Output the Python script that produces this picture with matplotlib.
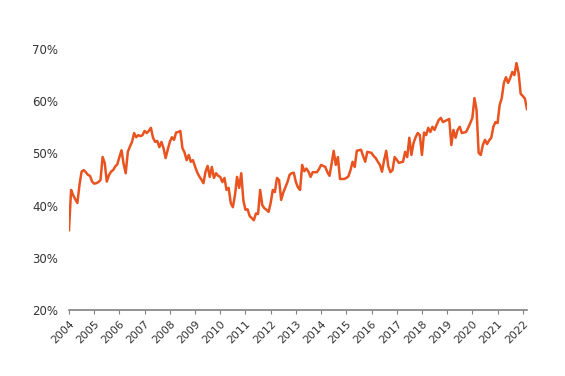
import matplotlib
matplotlib.use("Agg")
import matplotlib.pyplot as plt
import numpy as np

# monthly share (%), Jan 2004 .. Mar 2022
y2004 = [35.3, 43.0, 42.0, 41.2, 40.5, 44.0, 46.5, 46.8, 46.4, 45.9, 45.7, 44.6]
y2005 = [44.2, 44.3, 44.5, 44.9, 49.3, 48.2, 44.6, 45.8, 46.5, 46.8, 47.5, 47.9]
y2006 = [49.3, 50.6, 48.0, 46.2, 50.3, 51.3, 52.2, 53.9, 53.1, 53.5, 53.3, 53.5]
y2007 = [54.3, 53.9, 54.3, 54.9, 53.0, 52.2, 52.4, 51.2, 52.2, 51.0, 49.1, 50.7]
y2008 = [52.2, 53.1, 52.6, 54.0, 54.1, 54.3, 51.0, 50.2, 48.7, 49.7, 48.4, 48.7]
y2009 = [47.5, 46.4, 45.6, 45.0, 44.3, 46.5, 47.6, 45.5, 47.4, 45.3, 46.2, 45.7]
y2010 = [45.5, 44.5, 45.3, 43.0, 43.4, 40.5, 39.7, 42.0, 45.5, 43.4, 46.2, 41.0]
y2011 = [39.2, 39.3, 38.0, 37.6, 37.2, 38.5, 38.4, 43.0, 40.1, 39.5, 39.2, 38.8]
y2012 = [40.5, 43.0, 42.6, 45.3, 44.9, 41.1, 42.5, 43.5, 44.5, 45.9, 46.2, 46.3]
y2013 = [44.5, 43.5, 43.0, 47.8, 46.6, 47.1, 46.5, 45.5, 46.4, 46.4, 46.4, 47.0]
y2014 = [47.8, 47.6, 47.4, 46.4, 45.7, 48.0, 50.5, 47.8, 49.3, 45.1, 45.1, 45.1]
y2015 = [45.3, 45.6, 46.8, 48.4, 47.4, 50.5, 50.6, 50.7, 49.5, 48.4, 50.3, 50.2]
y2016 = [50.1, 49.5, 49.1, 48.4, 47.8, 46.5, 48.7, 50.5, 47.5, 46.4, 46.8, 49.3]
y2017 = [48.8, 48.2, 48.3, 48.4, 50.3, 49.3, 53.0, 49.7, 52.0, 53.1, 53.9, 53.5]
y2018 = [49.7, 54.0, 53.5, 54.9, 54.1, 55.1, 54.5, 55.5, 56.4, 56.8, 56.0, 56.2]
y2019 = [56.4, 56.6, 51.6, 54.5, 53.0, 54.5, 55.1, 53.9, 54.0, 54.1, 54.9, 55.8]
y2020 = [56.8, 60.6, 58.3, 50.1, 49.7, 51.6, 52.6, 51.8, 52.5, 53.0, 55.1, 56.0]
y2021 = [55.8, 59.3, 60.6, 63.5, 64.6, 63.5, 64.4, 65.6, 65.0, 67.3, 65.4, 61.4]
y2022 = [61.0, 60.5, 58.5]

values = (y2004 + y2005 + y2006 + y2007 + y2008 + y2009 + y2010 + y2011 + y2012
          + y2013 + y2014 + y2015 + y2016 + y2017 + y2018 + y2019 + y2020 + y2021 + y2022)
years = list(range(2004, 2023))
yticks = [20, 30, 40, 50, 60, 70]

t = 2004 + np.arange(len(values)) / 12

fig = plt.figure(figsize=(5.65, 3.76), dpi=100)
ax = fig.add_axes([0.1221, 0.1755, 0.8106, 0.6942])
ax.plot(t, values, color="#E9531F", linewidth=1.8, solid_joinstyle="round")

ax.set_xlim(2004, t[-1])
ax.set_ylim(20, 70)
ax.set_yticks(yticks)
ax.set_yticklabels([f"{v}%" for v in yticks])
ax.set_xticks(years)
ax.set_xticklabels([str(y) for y in years], rotation=45, ha="right", rotation_mode="anchor")

for side in ["top", "right", "left"]:
    ax.spines[side].set_visible(False)
ax.spines["bottom"].set_color("#808080")
ax.spines["bottom"].set_linewidth(1.2)
ax.tick_params(axis="y", length=0, pad=8, labelsize=8.5, labelcolor="#333333")
ax.tick_params(axis="x", length=3, color="#808080", pad=3, labelsize=7.8, labelcolor="#333333")

fig.savefig("out.png", dpi=100)
